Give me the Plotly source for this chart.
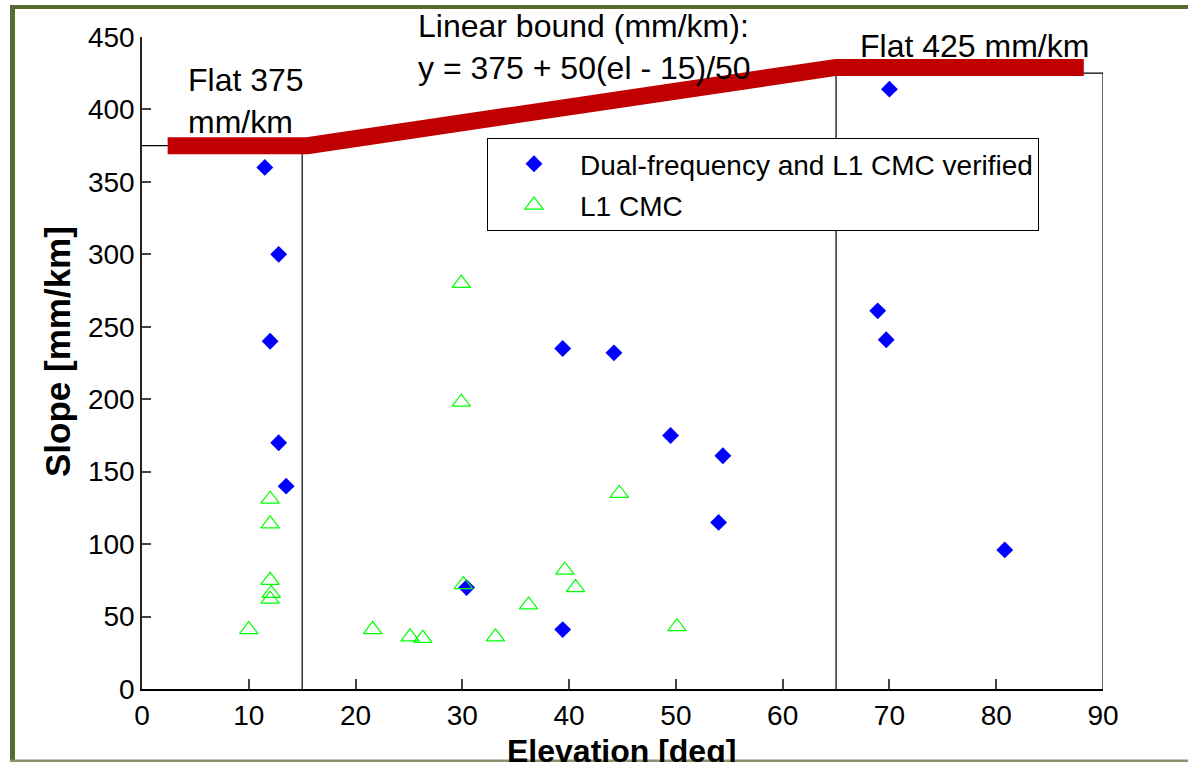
import plotly.graph_objects as go

# ---------------- data ----------------
dual_el = [11.5, 12.8, 12.0, 12.8, 13.5, 39.4, 44.2, 49.5, 54.4, 54.0, 30.4, 39.4, 70.0, 68.9, 69.7, 80.8]
dual_slope = [360, 300, 240, 170, 140, 235, 232, 175, 161, 115, 70, 41, 414, 261, 241, 96]

l1_el = [29.9, 29.9, 12.0, 12.0, 12.0, 12.1, 12.0, 10.0, 21.6, 25.1, 26.3, 30.1, 33.1, 36.2, 39.6, 40.6, 44.7, 50.1]
l1_slope = [280, 198, 131, 114, 75, 66, 62, 41, 41, 36, 35, 72, 36, 58, 82, 70, 135, 43]

# bound region outline (thin black)
box_x = [0, 15, 15, None, 65, 65, 90, 90]
box_y = [375, 375, 0, None, 0, 425, 425, 0]

# drawn bound (thick red)
bound_x = [2.4, 15.5, 65, 88.2]
bound_y = [375, 375, 429, 429]

x_ticks = [0, 10, 20, 30, 40, 50, 60, 70, 80, 90]
y_ticks = [0, 50, 100, 150, 200, 250, 300, 350, 400, 450]

# ---------------- layout geometry ----------------
W, H = 1188, 762
L, R, T, B = 142, 1103, 37, 689  # plot area in pixels


def px(x):
    return (x - L) / (R - L)


def py(y):
    return (B - y) / (B - T)


FONT = "Liberation Sans, Arial, sans-serif"

fig = go.Figure()

fig.add_trace(go.Scatter(x=box_x, y=box_y, mode="lines",
                         line=dict(color="black", width=1.2),
                         showlegend=False, hoverinfo="skip"))
fig.add_trace(go.Scatter(x=bound_x, y=bound_y, mode="lines",
                         line=dict(color="#C00000", width=17),
                         showlegend=False, hoverinfo="skip"))
fig.add_trace(go.Scatter(x=dual_el, y=dual_slope, mode="markers",
                         name="Dual-frequency and L1 CMC verified",
                         legendgroup="a",
                         marker=dict(symbol="diamond", size=13, color="#0000FF",
                                     line=dict(width=0))))
fig.add_trace(go.Scatter(x=l1_el, y=l1_slope, mode="markers",
                         name="L1 CMC",
                         legendgroup="b",
                         marker=dict(symbol="triangle-up-open", size=16, color="#00FF00",
                                     line=dict(width=1.2, color="#00FF00"))))

annotations = [
    dict(text="Flat 375<br>mm/km", x=px(186), y=py(60), xanchor="left", yanchor="top",
         align="left", font=dict(size=32)),
    dict(text="Linear bound (mm/km):<br>y = 375 + 50(el - 15)/50", x=px(416), y=py(6),
         xanchor="left", yanchor="top", align="left", font=dict(size=32)),
    dict(text="Flat 425 mm/km", x=px(858), y=py(26), xanchor="left", yanchor="top",
         align="left", font=dict(size=32)),
    dict(text="<b>Slope [mm/km]</b>", x=px(57), y=py(352), textangle=-90,
         xanchor="center", yanchor="middle", font=dict(size=35)),
    dict(text="<b>Elevation [deg]</b>", x=px(621), y=py(731), xanchor="center",
         yanchor="top", font=dict(size=32)),
]
for a in annotations:
    a.update(xref="paper", yref="paper", showarrow=False)
    a["font"].update(family=FONT, color="black")

olive = "#556B2F"
shapes = [
    dict(type="rect", x0=px(10), x1=px(15), y0=py(5), y1=py(770), fillcolor=olive,
         line=dict(width=0)),
    dict(type="rect", x0=px(10), x1=px(1200), y0=py(5), y1=py(9), fillcolor=olive,
         line=dict(width=0)),
    dict(type="rect", x0=px(10), x1=px(1200), y0=py(759.5), y1=py(762), fillcolor="#8C9170",
         line=dict(width=0)),
]
for s in shapes:
    s.update(xref="paper", yref="paper", layer="above")

fig.update_layout(
    width=W, height=H,
    margin=dict(l=L, r=W - R, t=T, b=H - B, pad=0),
    paper_bgcolor="white", plot_bgcolor="white",
    font=dict(family=FONT, size=28, color="black"),
    showlegend=True,
    legend=dict(x=px(487), y=py(138), xanchor="left", yanchor="top",
                bgcolor="white", bordercolor="black", borderwidth=1,
                font=dict(size=28, family=FONT), itemwidth=82, tracegroupgap=2),
    annotations=annotations,
    shapes=shapes,
)
fig.update_xaxes(range=[0, 90], tickvals=x_ticks, ticktext=[str(v) for v in x_ticks],
                 showline=True, linecolor="black", linewidth=2, mirror=False,
                 ticks="inside", ticklen=10, tickcolor="#444", tickwidth=1.5,
                 showgrid=False, zeroline=False, tickfont=dict(size=28))
fig.update_yaxes(range=[0, 450], tickvals=y_ticks, ticktext=[str(v) for v in y_ticks],
                 showline=True, linecolor="#222", linewidth=1.5, mirror=False,
                 ticks="inside", ticklen=9, tickcolor="#444", tickwidth=1.5,
                 showgrid=False, zeroline=False, tickfont=dict(size=28))

fig.write_html("out.html",
               config={"displayModeBar": False},
               post_script="document.body.style.margin='0';document.body.style.overflow='hidden';")
